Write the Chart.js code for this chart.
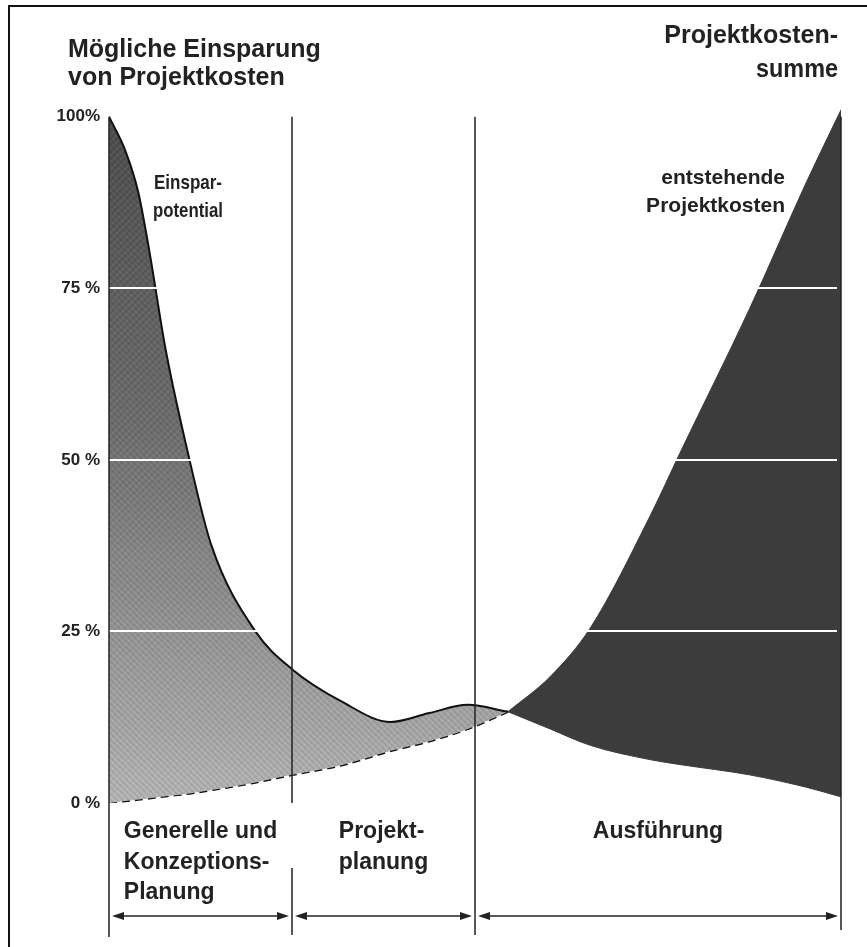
<!DOCTYPE html>
<html>
<head>
<meta charset="utf-8">
<script src="https://cdn.jsdelivr.net/npm/chart.js@4.4.1/dist/chart.umd.min.js"></script>
<style>
  html, body { margin: 0; padding: 0; background: #fff; }
  #wrap { width: 867px; height: 947px; }
</style>
</head>
<body>
<div id="wrap"><canvas id="chart" width="867" height="947"></canvas></div>
<script>
// phase boundaries on the x axis and their labels
const phaseBounds = [0, 1, 2, 4];
const phaseLabels = [
  ["Generelle und", "Konzeptions-", "Planung"],
  ["Projekt-", "planung"],
  ["Ausführung"],
];
const yTicks = [0, 25, 50, 75, 100];
const yTickLabels = ["0 %", "25 %", "50 %", "75 %", "100%"];
const levelLines = [25, 50, 75];

// Einsparpotential: upper curve and dashed lower line
const savingsX = [0, 0.09, 0.16, 0.22, 0.31, 0.44, 0.56, 0.8, 1.0, 1.27, 1.54, 1.75, 1.96, 2.18];
const savingsUpper = [100, 95, 89, 80.5, 66, 50, 37.5, 25, 19.5, 14.8, 11.8, 13.1, 14.3, 13.3];
const savingsLower = [0, 0.3, 0.5, 0.7, 1.0, 1.4, 1.9, 3.0, 4.1, 5.5, 7.6, 9.0, 10.8, 13.3];

// entstehende Projektkosten
const costX = [2.18, 2.41, 2.63, 2.96, 3.12, 3.5, 3.81, 4.0];
const costUpper = [13.3, 18.4, 25.5, 42, 51, 72, 90.4, 101];
const costLower = [13.3, 10.8, 8.4, 6.3, 5.6, 4.1, 2.3, 0.9];

const FONT = '"Liberation Sans", Arial, sans-serif';
const INK = "#222";

function pts(xs, ys) {
  return xs.map((x, i) => ({ x: x, y: ys[i] }));
}

// gray fill: darker at the top, with a light diagonal screen like the print
let grayPattern = null;
function grayFill(context) {
  const chart = context.chart;
  const area = chart.chartArea;
  if (!area) return "#888";
  if (grayPattern) return grayPattern;
  const off = document.createElement("canvas");
  off.width = chart.width;
  off.height = chart.height;
  const c = off.getContext("2d");
  const g = c.createLinearGradient(0, area.top, 0, area.bottom);
  g.addColorStop(0, "#4a4a4a");
  g.addColorStop(0.45, "#6c6c6c");
  g.addColorStop(1, "#b6b6b6");
  c.fillStyle = g;
  c.fillRect(0, 0, off.width, off.height);
  c.lineWidth = 1.5;
  c.strokeStyle = "rgba(0,0,0,0.10)";
  for (let d = -off.height; d < off.width; d += 6) {
    c.beginPath();
    c.moveTo(d, 0);
    c.lineTo(d + off.height, off.height);
    c.stroke();
  }
  c.strokeStyle = "rgba(255,255,255,0.08)";
  for (let d = 0; d < off.width + off.height; d += 7) {
    c.beginPath();
    c.moveTo(d, 0);
    c.lineTo(d - off.height, off.height);
    c.stroke();
  }
  grayPattern = chart.ctx.createPattern(off, "no-repeat");
  return grayPattern;
}

function text(ctx, str, x, y, size, align, maxW) {
  ctx.font = "bold " + size + "px " + FONT;
  ctx.textAlign = align;
  ctx.textBaseline = "middle";
  if (maxW) ctx.fillText(str, x, y, maxW);
  else ctx.fillText(str, x, y);
}

function arrow(ctx, x1, x2, y) {
  const len = 12, half = 4;
  ctx.beginPath();
  ctx.moveTo(x1 + len, y);
  ctx.lineTo(x2 - len, y);
  ctx.stroke();
  ctx.beginPath();
  ctx.moveTo(x1, y);
  ctx.lineTo(x1 + len, y - half);
  ctx.lineTo(x1 + len, y + half);
  ctx.closePath();
  ctx.fill();
  ctx.beginPath();
  ctx.moveTo(x2, y);
  ctx.lineTo(x2 - len, y - half);
  ctx.lineTo(x2 - len, y + half);
  ctx.closePath();
  ctx.fill();
}

const decor = {
  id: "decor",
  afterDatasetsDraw(chart) {
    const { ctx, chartArea, scales } = chart;
    // white level lines, only where something is already painted
    ctx.save();
    ctx.globalCompositeOperation = "source-atop";
    ctx.strokeStyle = "#fff";
    ctx.lineWidth = 2;
    levelLines.forEach((v) => {
      const py = Math.round(scales.y.getPixelForValue(v));
      ctx.beginPath();
      ctx.moveTo(chartArea.left, py);
      ctx.lineTo(chartArea.right - 4, py);
      ctx.stroke();
    });
    ctx.restore();
  },
  afterDraw(chart) {
    const { ctx, scales } = chart;
    const xs = phaseBounds.map((b) => scales.x.getPixelForValue(b));
    const yTop = scales.y.getPixelForValue(100);
    const yZero = scales.y.getPixelForValue(0);
    ctx.save();

    // page frame
    ctx.strokeStyle = "#111";
    ctx.lineWidth = 2;
    ctx.beginPath();
    ctx.moveTo(9, 947);
    ctx.lineTo(9, 6);
    ctx.lineTo(867, 6);
    ctx.stroke();

    // vertical phase lines
    ctx.strokeStyle = INK;
    ctx.lineWidth = 1.5;
    ctx.beginPath();
    ctx.moveTo(xs[0], yTop);
    ctx.lineTo(xs[0], 937);
    ctx.moveTo(xs[1], yTop);
    ctx.lineTo(xs[1], yZero);
    ctx.moveTo(xs[1], 868);
    ctx.lineTo(xs[1], 935);
    ctx.moveTo(xs[2], yTop);
    ctx.lineTo(xs[2], 935);
    ctx.moveTo(xs[3], yTop);
    ctx.lineTo(xs[3], 930);
    ctx.stroke();

    // double arrows under each phase
    ctx.fillStyle = INK;
    ctx.lineWidth = 1.5;
    for (let i = 0; i < 3; i++) {
      arrow(ctx, xs[i] + 3, xs[i + 1] - 3, 916);
    }

    // phase labels: left aligned block centred on the phase
    ctx.fillStyle = INK;
    phaseLabels.forEach((lines, i) => {
      ctx.font = "bold 23px " + FONT;
      const w = Math.max(...lines.map((l) => ctx.measureText(l).width));
      const x0 = (xs[i] + xs[i + 1]) / 2 - w / 2;
      lines.forEach((l, j) => text(ctx, l, x0, 832 + j * 30.5, 23, "left"));
    });

    // titles
    text(ctx, "Mögliche Einsparung", 68, 50, 25, "left", 262);
    text(ctx, "von Projektkosten", 68, 78, 25, "left", 236);
    text(ctx, "Projektkosten-", 838, 36, 25, "right", 190);
    text(ctx, "summe", 838, 70, 25, "right", 82);

    // area annotations
    text(ctx, "Einspar-", 154, 183, 21, "left", 68);
    text(ctx, "potential", 153, 211, 21, "left", 70);
    text(ctx, "entstehende", 785, 178, 21, "right", 142);
    text(ctx, "Projektkosten", 785, 206, 21, "right", 152);

    ctx.restore();
  },
};

new Chart(document.getElementById("chart"), {
  type: "line",
  data: {
    datasets: [
      {
        label: "Einsparpotential",
        data: pts(savingsX, savingsUpper),
        borderColor: "#111",
        borderWidth: 2,
        backgroundColor: grayFill,
        fill: 1,
        cubicInterpolationMode: "monotone",
        pointRadius: 0,
      },
      {
        label: "Einsparpotential unten",
        data: pts(savingsX, savingsLower),
        borderColor: "#111",
        borderWidth: 2.5,
        borderDash: [8, 5],
        fill: false,
        cubicInterpolationMode: "monotone",
        pointRadius: 0,
      },
      {
        label: "entstehende Projektkosten",
        data: pts(costX, costUpper),
        borderColor: "#3a3a3a",
        borderWidth: 1,
        backgroundColor: "#3c3c3c",
        fill: 3,
        cubicInterpolationMode: "monotone",
        pointRadius: 0,
      },
      {
        label: "Projektkosten unten",
        data: pts(costX, costLower),
        borderColor: "#3a3a3a",
        borderWidth: 1,
        fill: false,
        cubicInterpolationMode: "monotone",
        pointRadius: 0,
      },
    ],
  },
  options: {
    responsive: false,
    animation: false,
    devicePixelRatio: 1,
    layout: { padding: { left: 0, right: 26, top: 103, bottom: 144 } },
    plugins: {
      legend: { display: false },
      tooltip: { enabled: false },
    },
    scales: {
      x: {
        type: "linear",
        min: 0,
        max: 4,
        display: false,
      },
      y: {
        min: 0,
        max: 102,
        afterFit: (scale) => {
          scale.width = 109;
        },
        afterBuildTicks: (scale) => {
          scale.ticks = yTicks.map((v) => ({ value: v }));
        },
        grid: { display: false, drawTicks: false },
        border: { display: false },
        ticks: {
          padding: 9,
          color: INK,
          font: { family: FONT, size: 17, weight: "bold" },
          callback: (v) => yTickLabels[yTicks.indexOf(v)],
        },
      },
    },
  },
  plugins: [decor],
});
</script>
</body>
</html>
